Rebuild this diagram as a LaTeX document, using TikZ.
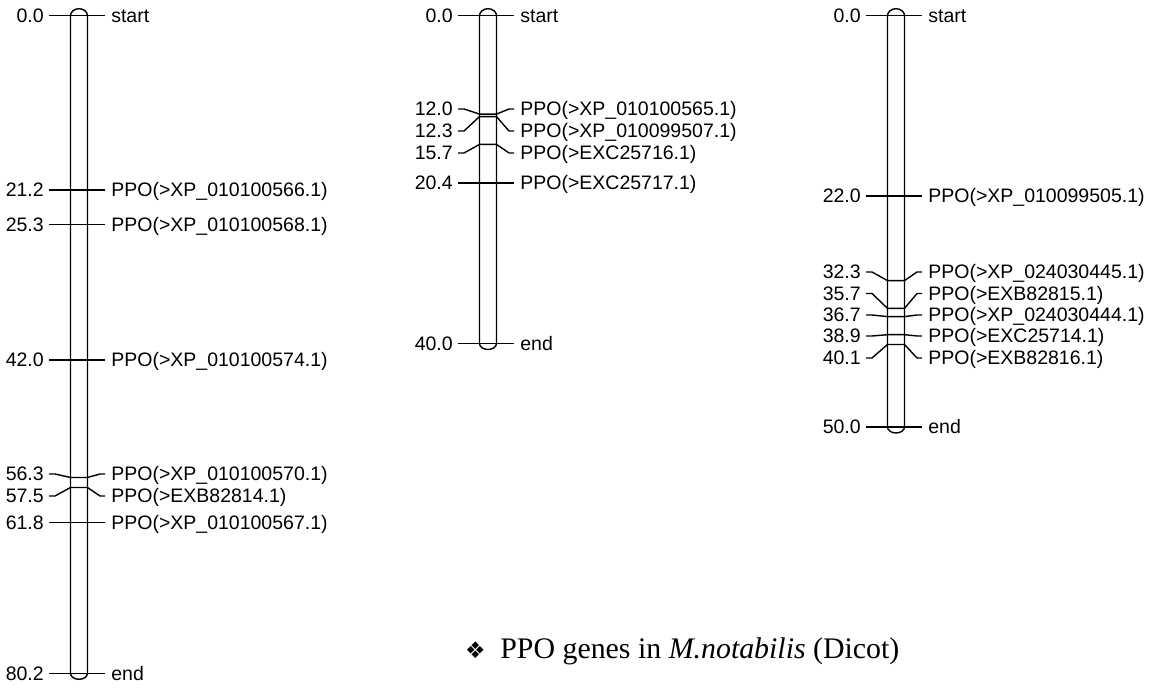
\documentclass[tikz,border=0pt]{standalone}
\usepackage{fontspec}
\setmainfont{Liberation Serif}
\newfontfamily\maplabelfont{Liberation Sans}
\newfontfamily\bulletfont{DejaVu Sans}
\usetikzlibrary{calc}

\begin{document}
\begin{tikzpicture}[x=0.02cm, y=-0.02cm,
    chrom/.style={line width=0.8pt},
    tickline/.style={line width=0.8pt},
    numlbl/.style={anchor=east, inner xsep=2.8pt, inner ysep=0pt, text height=7.9pt, text depth=0pt, font=\maplabelfont\fontsize{11.1}{13}\selectfont},
    genelbl/.style={anchor=west, inner xsep=3.4pt, inner ysep=0pt, text height=7.9pt, text depth=0pt, font=\maplabelfont\fontsize{11.1}{13}\selectfont}]
  \useasboundingbox (0,0) rectangle (1152,688);

  % first linkage group
  \draw[chrom] (70.5,15.7) -- (70.5,673.3) arc[start angle=180, end angle=0, x radius=8.5, y radius=6] -- (87.5,15.7) arc[start angle=0, end angle=-180, x radius=8.5, y radius=7] -- cycle;
  \node[numlbl] (a0l) at (49,15.7) {0.0};
  \node[genelbl] (a0r) at (105,15.7) {start};
  \node[numlbl] (a1l) at (49,190) {21.2};
  \node[genelbl] (a1r) at (105,190) {PPO(>XP\_010100566.1)};
  \node[numlbl] (a2l) at (49,224.5) {25.3};
  \node[genelbl] (a2r) at (105,224.5) {PPO(>XP\_010100568.1)};
  \node[numlbl] (a3l) at (49,360) {42.0};
  \node[genelbl] (a3r) at (105,360) {PPO(>XP\_010100574.1)};
  \node[numlbl] (a4l) at (49,474) {56.3};
  \node[genelbl] (a4r) at (105,474) {PPO(>XP\_010100570.1)};
  \node[numlbl] (a5l) at (49,496) {57.5};
  \node[genelbl] (a5r) at (105,496) {PPO(>EXB82814.1)};
  \node[numlbl] (a6l) at (49,522.5) {61.8};
  \node[genelbl] (a6r) at (105,522.5) {PPO(>XP\_010100567.1)};
  \node[numlbl] (a7l) at (49,673.3) {80.2};
  \node[genelbl] (a7r) at (105,673.3) {end};
  \draw[tickline] (a0l.east) -- (a0r.west);
  \draw[tickline] (a1l.east) -- (a1r.west);
  \draw[tickline] (a2l.east) -- (a2r.west);
  \draw[tickline] (a3l.east) -- (a3r.west);
  \draw[tickline] (a4l.east) -- ++(6,0) -- (70.5,477.5) -- (87.5,477.5) -- ($(a4r.west)+(-5,0)$) -- (a4r.west);
  \draw[tickline] (a5l.east) -- ++(6,0) -- (70.5,487.5) -- (87.5,487.5) -- ($(a5r.west)+(-5,0)$) -- (a5r.west);
  \draw[tickline] (a6l.east) -- (a6r.west);
  \draw[tickline] (a7l.east) -- (a7r.west);

  % second linkage group
  \draw[chrom] (479.5,15.7) -- (479.5,343.5) arc[start angle=180, end angle=0, x radius=8.5, y radius=6] -- (496.5,15.7) arc[start angle=0, end angle=-180, x radius=8.5, y radius=7] -- cycle;
  \node[numlbl] (b0l) at (458,15.7) {0.0};
  \node[genelbl] (b0r) at (514,15.7) {start};
  \node[numlbl] (b1l) at (458,109) {12.0};
  \node[genelbl] (b1r) at (514,109) {PPO(>XP\_010100565.1)};
  \node[numlbl] (b2l) at (458,131) {12.3};
  \node[genelbl] (b2r) at (514,131) {PPO(>XP\_010099507.1)};
  \node[numlbl] (b3l) at (458,153) {15.7};
  \node[genelbl] (b3r) at (514,153) {PPO(>EXC25716.1)};
  \node[numlbl] (b4l) at (458,183) {20.4};
  \node[genelbl] (b4r) at (514,183) {PPO(>EXC25717.1)};
  \node[numlbl] (b5l) at (458,343.5) {40.0};
  \node[genelbl] (b5r) at (514,343.5) {end};
  \draw[tickline] (b0l.east) -- (b0r.west);
  \draw[tickline] (b1l.east) -- ++(6,0) -- (479.5,114.1) -- (496.5,114.1) -- ($(b1r.west)+(-5,0)$) -- (b1r.west);
  \draw[tickline] (b2l.east) -- ++(6,0) -- (479.5,116.6) -- (496.5,116.6) -- ($(b2r.west)+(-5,0)$) -- (b2r.west);
  \draw[tickline] (b3l.east) -- ++(6,0) -- (479.5,144.4) -- (496.5,144.4) -- ($(b3r.west)+(-5,0)$) -- (b3r.west);
  \draw[tickline] (b4l.east) -- (b4r.west);
  \draw[tickline] (b5l.east) -- (b5r.west);

  % third linkage group
  \draw[chrom] (887.5,15.7) -- (887.5,427) arc[start angle=180, end angle=0, x radius=8.5, y radius=6] -- (904.5,15.7) arc[start angle=0, end angle=-180, x radius=8.5, y radius=7] -- cycle;
  \node[numlbl] (c0l) at (866,15.7) {0.0};
  \node[genelbl] (c0r) at (922,15.7) {start};
  \node[numlbl] (c1l) at (866,196) {22.0};
  \node[genelbl] (c1r) at (922,196) {PPO(>XP\_010099505.1)};
  \node[numlbl] (c2l) at (866,272) {32.3};
  \node[genelbl] (c2r) at (922,272) {PPO(>XP\_024030445.1)};
  \node[numlbl] (c3l) at (866,293.5) {35.7};
  \node[genelbl] (c3r) at (922,293.5) {PPO(>EXB82815.1)};
  \node[numlbl] (c4l) at (866,315) {36.7};
  \node[genelbl] (c4r) at (922,315) {PPO(>XP\_024030444.1)};
  \node[numlbl] (c5l) at (866,336) {38.9};
  \node[genelbl] (c5r) at (922,336) {PPO(>EXC25714.1)};
  \node[numlbl] (c6l) at (866,358) {40.1};
  \node[genelbl] (c6r) at (922,358) {PPO(>EXB82816.1)};
  \node[numlbl] (c7l) at (866,427) {50.0};
  \node[genelbl] (c7r) at (922,427) {end};
  \draw[tickline] (c0l.east) -- (c0r.west);
  \draw[tickline] (c1l.east) -- (c1r.west);
  \draw[tickline] (c2l.east) -- ++(6,0) -- (887.5,280.6) -- (904.5,280.6) -- ($(c2r.west)+(-5,0)$) -- (c2r.west);
  \draw[tickline] (c3l.east) -- ++(6,0) -- (887.5,308.4) -- (904.5,308.4) -- ($(c3r.west)+(-5,0)$) -- (c3r.west);
  \draw[tickline] (c4l.east) -- ++(6,0) -- (887.5,316.6) -- (904.5,316.6) -- ($(c4r.west)+(-5,0)$) -- (c4r.west);
  \draw[tickline] (c5l.east) -- ++(6,0) -- (887.5,334.7) -- (904.5,334.7) -- ($(c5r.west)+(-5,0)$) -- (c5r.west);
  \draw[tickline] (c6l.east) -- ++(6,0) -- (887.5,344.5) -- (904.5,344.5) -- ($(c6r.west)+(-5,0)$) -- (c6r.west);
  \draw[tickline] (c7l.east) -- (c7r.west);

  % caption
  \node[anchor=base west, inner sep=0pt, font=\fontsize{17}{20}\selectfont] (cap) at (500,658) {PPO genes in \textit{M.notabilis} (Dicot)};
  \node[anchor=base east, inner sep=0pt, font=\bulletfont\fontsize{13}{16}\selectfont] (bul) at ($(cap.base west)+(-14,0)$) {❖};
\end{tikzpicture}
\end{document}
